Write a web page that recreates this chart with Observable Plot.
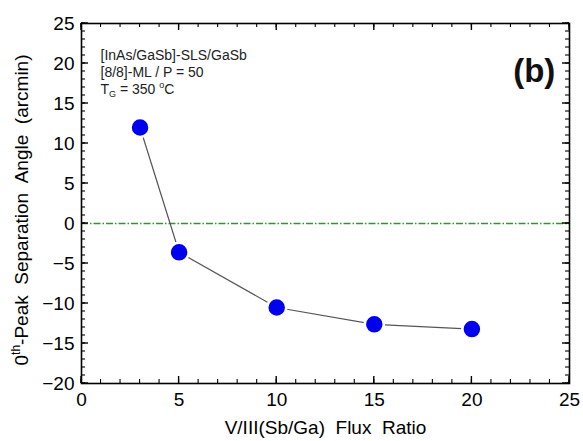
<!DOCTYPE html>
<html>
<head>
<meta charset="utf-8">
<script src="https://cdn.jsdelivr.net/npm/d3@7"></script>
<script src="https://cdn.jsdelivr.net/npm/@observablehq/plot@0.6"></script>
<style>
  html, body { margin: 0; padding: 0; background: #fff; }
  #chart svg { display: block; }
</style>
</head>
<body>
<div id="chart"></div>
<script>
const fluxRatio = [3, 5, 10, 15, 20];
const separationAngle = [12, -3.6, -10.5, -12.6, -13.2];
const xTicks = [0, 5, 10, 15, 20, 25];
const yTicks = [-20, -15, -10, -5, 0, 5, 10, 15, 20, 25];
const xMinor = d3.range(0, 25.5, 1);
const yMinor = d3.range(-20, 25.5, 1);
const xLabel = "V/III(Sb/Ga)  Flux  Ratio";
const annLine1 = "[InAs/GaSb]-SLS/GaSb";
const annLine2 = "[8/8]-ML / P = 50";
const panelTag = "(b)";

const data = fluxRatio.map((x, i) => ({x, y: separationAngle[i]}));
const font = "Liberation Sans, Arial, sans-serif";
const W = 583, H = 441, ML = 81, MR = 14, MT = 23, MB = 58;
const PW = W - ML - MR, PH = H - MT - MB;
const MAJ = 7, MIN = 4;

const plot = Plot.plot({
  width: W,
  height: H,
  marginLeft: ML,
  marginRight: MR,
  marginTop: MT,
  marginBottom: MB,
  style: {fontFamily: font, background: "#fff", color: "#000"},
  x: {domain: [0, 25]},
  y: {domain: [-20, 25]},
  marks: [
    Plot.ruleY([0], {stroke: "#22a022", strokeWidth: 1.3, strokeDasharray: "7,2,1.5,2"}),
    Plot.axisX(xTicks, {anchor: "bottom", tickSize: 0, tickPadding: 9, fontSize: 19, label: xLabel, labelAnchor: "center", labelArrow: "none", labelOffset: 50}),
    Plot.axisY(yTicks, {anchor: "left", tickSize: 0, tickPadding: 7, fontSize: 19, label: null}),
    Plot.frame({stroke: "#000", strokeWidth: 1.6}),
    Plot.line(data, {x: "x", y: "y", stroke: "#555", strokeWidth: 1.2}),
    Plot.dot(data, {x: "x", y: "y", r: 9.5, fill: "#0000ee", stroke: "#fff", strokeWidth: 2.5})
  ]
});

document.getElementById("chart").appendChild(plot);

const svg = d3.select(plot);
svg.selectAll("[aria-label='x-axis label'] text").attr("font-size", 19);

const sx = plot.scale("x"), sy = plot.scale("y");
const x0 = sx.apply(0), x1 = sx.apply(25), y0 = sy.apply(-20), y1 = sy.apply(25);

// inward ticks on all four sides, positioned with the plot's own scales
const tg = svg.append("g").attr("stroke", "#000").attr("fill", "none");
function drawTicks(xs, ys, len, sw) {
  xs.forEach(v => {
    const px = sx.apply(v);
    tg.append("line").attr("x1", px).attr("x2", px).attr("y1", y0).attr("y2", y0 - len).attr("stroke-width", sw);
    tg.append("line").attr("x1", px).attr("x2", px).attr("y1", y1).attr("y2", y1 + len).attr("stroke-width", sw);
  });
  ys.forEach(v => {
    const py = sy.apply(v);
    tg.append("line").attr("y1", py).attr("y2", py).attr("x1", x0).attr("x2", x0 + len).attr("stroke-width", sw);
    tg.append("line").attr("y1", py).attr("y2", py).attr("x1", x1).attr("x2", x1 - len).attr("stroke-width", sw);
  });
}
drawTicks(xMinor, yMinor, MIN, 1.1);
drawTicks(xTicks, yTicks, MAJ, 1.4);

// Y axis title with superscript
const ytl = svg.append("text")
  .attr("transform", `translate(28, 210) rotate(-90)`)
  .attr("text-anchor", "middle")
  .attr("font-family", font)
  .attr("font-size", 19)
  .attr("fill", "#000")
  .style("white-space", "pre");
ytl.append("tspan").text("0");
ytl.append("tspan").attr("font-size", 12).attr("dy", -8).text("th");
ytl.append("tspan").attr("dy", 8).text("-Peak  Separation  Angle  (arcmin)");

// Annotation
const ax = sx.apply(1);
const ann = svg.append("g").attr("font-family", font).attr("font-size", 14)
  .attr("fill", "#222").attr("text-anchor", "start").style("white-space", "pre");
ann.append("text").attr("x", ax).attr("y", 60).text(annLine1);
ann.append("text").attr("x", ax).attr("y", 77).text(annLine2);
const t3 = ann.append("text").attr("x", ax).attr("y", 94);
t3.append("tspan").text("T");
t3.append("tspan").attr("font-size", 9).attr("dy", 3).text("G");
t3.append("tspan").attr("dy", -3).text(" = 350 ");
t3.append("tspan").attr("font-size", 9).attr("dy", -6).text("o");
t3.append("tspan").attr("dy", 6).text("C");

svg.append("text")
  .attr("x", sx.apply(24.3)).attr("y", 82)
  .attr("text-anchor", "end")
  .attr("font-family", font).attr("font-size", 33).attr("font-weight", "bold")
  .attr("fill", "#111")
  .text(panelTag);
</script>
</body>
</html>
